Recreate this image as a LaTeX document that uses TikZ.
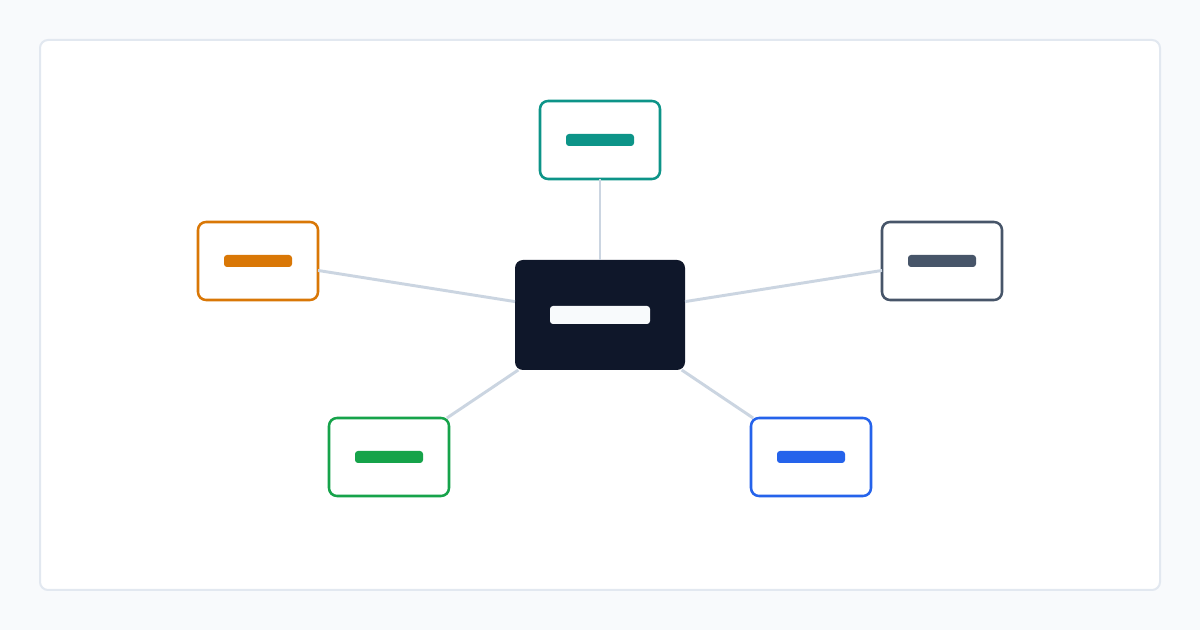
\documentclass[tikz,border=0pt]{standalone}
\usetikzlibrary{positioning}
\definecolor{pagebg}{HTML}{F8FAFC}
\definecolor{panelline}{HTML}{E2E8F0}
\definecolor{hubfill}{HTML}{0F172A}
\definecolor{edgecol}{HTML}{CBD5E1}
\definecolor{cteal}{HTML}{0D9488}
\definecolor{corange}{HTML}{D97706}
\definecolor{cslate}{HTML}{475569}
\definecolor{cgreen}{HTML}{16A34A}
\definecolor{cblue}{HTML}{2563EB}
\tikzstyle{leaf} = [draw,fill=white,rounded corners=6pt,line width=1.9pt,minimum width=90pt,minimum height=58.5pt,inner sep=0,outer sep=0]
\tikzstyle{hub} = [fill=hubfill,rounded corners=6pt,minimum width=127.5pt,minimum height=82.5pt,inner sep=0,outer sep=0]
\tikzstyle{bar} = [rounded corners=2.25pt,minimum width=51pt,minimum height=9pt,inner sep=0]
\tikzstyle{hubbar} = [fill=pagebg,rounded corners=2.25pt,minimum width=75pt,minimum height=13.5pt,inner sep=0]
\tikzstyle{link} = [draw=edgecol,line width=2.2pt]

\begin{document}
\begin{tikzpicture}[x=0.75pt,y=-0.75pt]
    \fill [pagebg] (0,0) rectangle (1200,630);
    \useasboundingbox (0,0) rectangle (1200,630);
    \draw [panelline,fill=white,line width=1.5pt,rounded corners=6pt] (40,40) rectangle (1160,590);

    \node [hub] (core) at (600,315) {};
    \node [leaf,draw=cteal] (n1) at (600,140) {};
    \node [leaf,draw=corange] (n2) at (258,261) {};
    \node [leaf,draw=cslate] (n3) at (942,261) {};
    \node [leaf,draw=cgreen] (n4) at (389,457) {};
    \node [leaf,draw=cblue] (n5) at (811,457) {};

    \node [hubbar] (b0) at (core) {};
    \node [bar,fill=cteal] (b1) at (n1) {};
    \node [bar,fill=corange] (b2) at (n2) {};
    \node [bar,fill=cslate] (b3) at (n3) {};
    \node [bar,fill=cgreen] (b4) at (n4) {};
    \node [bar,fill=cblue] (b5) at (n5) {};

    \draw [link] (core) -- (n1);
    \draw [link] (core) -- (n2);
    \draw [link] (core) -- (n3);
    \draw [link] (core) -- (n4);
    \draw [link] (core) -- (n5);
  \end{tikzpicture}
\end{document}
